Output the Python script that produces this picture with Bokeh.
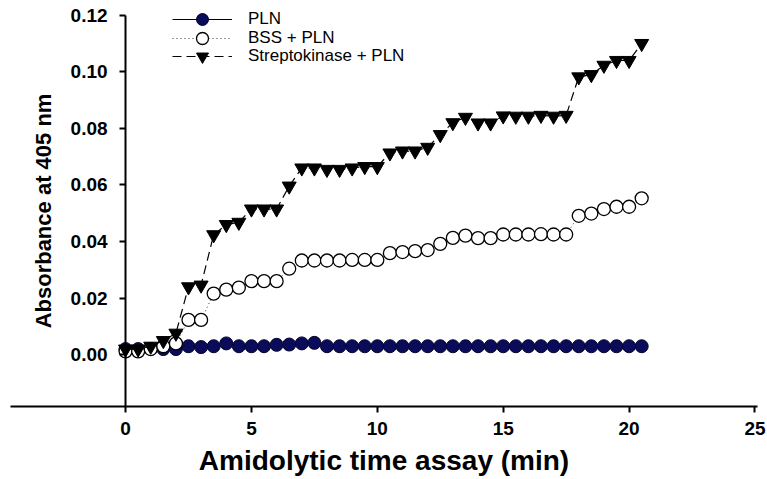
from bokeh.plotting import figure
from bokeh.models import LinearAxis, Range1d, Legend, LegendItem, FixedTicker, NumeralTickFormatter
from bokeh.embed import file_html
from bokeh.resources import INLINE

# time points (min)
time_min = [0.0, 0.5, 1.0, 1.5, 2.0, 2.5, 3.0, 3.5, 4.0, 4.5,
            5.0, 5.5, 6.0, 6.5, 7.0, 7.5, 8.0, 8.5, 9.0, 9.5,
            10.0, 10.5, 11.0, 11.5, 12.0, 12.5, 13.0, 13.5, 14.0, 14.5,
            15.0, 15.5, 16.0, 16.5, 17.0, 17.5, 18.0, 18.5, 19.0, 19.5,
            20.0, 20.5]

pln = [0.002, 0.002, 0.002, 0.002, 0.002, 0.003, 0.0027, 0.003, 0.004, 0.003,
       0.003, 0.003, 0.0035, 0.0036, 0.004, 0.0042, 0.003, 0.003, 0.003, 0.003,
       0.003, 0.003, 0.003, 0.003, 0.003, 0.003, 0.003, 0.003, 0.003, 0.003,
       0.003, 0.003, 0.003, 0.003, 0.003, 0.003, 0.003, 0.003, 0.003, 0.003,
       0.003, 0.003]

bss_pln = [0.0012, 0.0012, 0.002, 0.003, 0.004, 0.0123, 0.0123, 0.0216, 0.023, 0.0237,
           0.026, 0.026, 0.026, 0.0304, 0.0333, 0.0333, 0.0333, 0.0333, 0.0335, 0.0335,
           0.0335, 0.0359, 0.0363, 0.0366, 0.037, 0.0392, 0.0413, 0.0421, 0.0412, 0.0412,
           0.0425, 0.0425, 0.0425, 0.0426, 0.0425, 0.0425, 0.0491, 0.0499, 0.0515, 0.0523,
           0.0523, 0.0553]

strepto_pln = [0.002, 0.002, 0.003, 0.005, 0.0076, 0.024, 0.0246, 0.0424, 0.046, 0.0468,
               0.0515, 0.0515, 0.0515, 0.0596, 0.066, 0.066, 0.0655, 0.0655, 0.066, 0.0665,
               0.0665, 0.0713, 0.072, 0.072, 0.0733, 0.0778, 0.082, 0.0839, 0.0819, 0.0819,
               0.0844, 0.0843, 0.0843, 0.0846, 0.0843, 0.0846, 0.0982, 0.099, 0.1023, 0.104,
               0.104, 0.11]

series_labels = ["PLN", "BSS + PLN", "Streptokinase + PLN"]
x_ticks = [0, 5, 10, 15, 20, 25]
y_ticks = [0.0, 0.02, 0.04, 0.06, 0.08, 0.10, 0.12]

FONT = "Liberation Sans"

p = figure(width=767, height=479, output_backend="svg", toolbar_location=None,
           title_location=None,
           x_range=Range1d(-4.57, 25.1), y_range=Range1d(-0.0183, 0.1245),
           min_border_left=10, min_border_right=10, min_border_top=2,
           min_border_bottom=73, y_axis_location=None)

p.grid.visible = False
p.outline_line_color = None
p.background_fill_color = "white"

# x axis
xa = p.xaxis[0]
xa.ticker = FixedTicker(ticks=x_ticks)
xa.axis_label = "Amidolytic time assay (min)"

yaxis = LinearAxis(fixed_location=0, ticker=FixedTicker(ticks=y_ticks),
                   formatter=NumeralTickFormatter(format="0.00"),
                   axis_label="Absorbance at 405 nm", bounds=(-0.0183, 0.12))
p.add_layout(yaxis, "left")

for ax in (xa, yaxis):
    ax.axis_line_width = 2
    ax.axis_line_color = "black"
    ax.major_tick_line_width = 2
    ax.major_tick_out = 6
    ax.major_tick_in = 0
    ax.minor_tick_out = 0
    ax.minor_tick_in = 0
    ax.major_label_text_font = FONT
    ax.major_label_text_font_style = "bold"
    ax.major_label_text_font_size = "19px"
    ax.major_label_text_color = "black"
    ax.axis_label_text_font = FONT
    ax.axis_label_text_font_style = "bold"
    ax.axis_label_text_color = "black"

xa.major_label_standoff = 9
xa.axis_label_text_font_size = "28px"
xa.axis_label_standoff = 7
yaxis.major_label_standoff = 12
yaxis.axis_label_text_font_size = "22px"
yaxis.axis_label_standoff = 12

# series
l1 = p.line(time_min, pln, line_color="black", line_width=1)
s1 = p.scatter(time_min, pln, marker="circle", size=13, fill_color="#0b0b5c",
               line_color="#05052a", line_width=1)

l2 = p.line(time_min, bss_pln, line_color="#333333", line_width=1, line_dash="1 3")
s2 = p.scatter(time_min, bss_pln, marker="circle", size=13, fill_color="white",
               line_color="black", line_width=1.3)

l3 = p.line(time_min, strepto_pln, line_color="black", line_width=1.2, line_dash="9 5")
s3 = p.scatter(time_min, strepto_pln, marker="inverted_triangle", size=14,
               fill_color="black", line_color="black")

# one single-item legend per series, stacked
for label, rends, vy in zip(series_labels, [[l1, s1], [l2, s2], [l3, s3]], [372, 353, 335]):
    lg = Legend(items=[LegendItem(label=label, renderers=rends)], location=(162, vy))
    lg.border_line_color = None
    lg.background_fill_alpha = 0
    lg.padding = 0
    lg.margin = 0
    lg.spacing = 0
    lg.glyph_width = 60
    lg.glyph_height = 30
    lg.label_height = 18
    lg.label_standoff = 16
    lg.label_text_font = FONT
    lg.label_text_font_size = "17px"
    lg.label_text_color = "black"
    p.add_layout(lg)

open("out.html", "w").write(file_html(p, INLINE))
